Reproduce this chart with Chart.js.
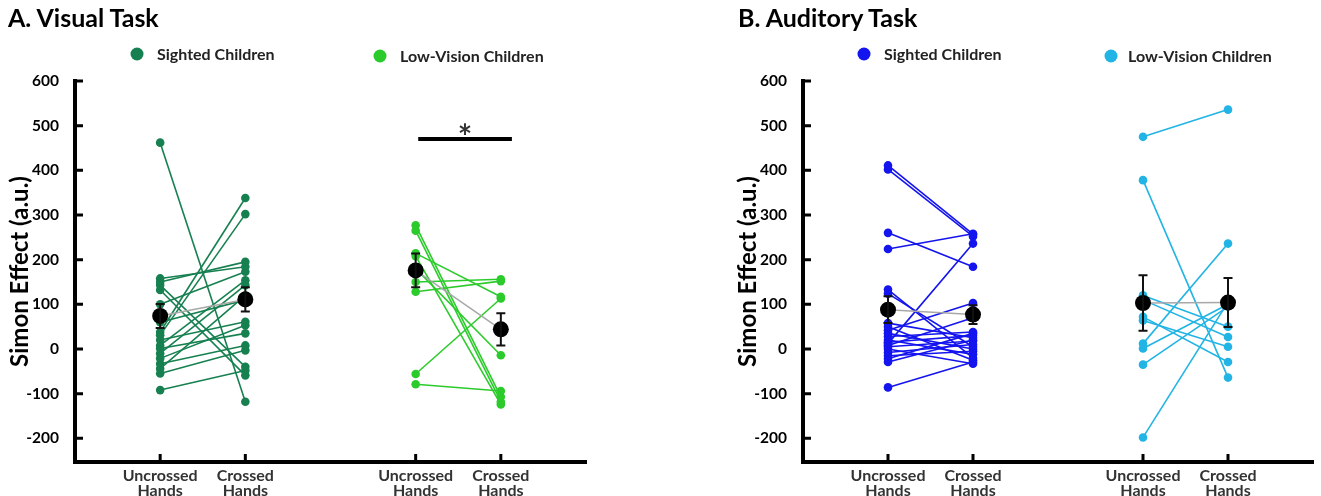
<!DOCTYPE html>
<html><head><meta charset="utf-8">
<script src="https://cdn.jsdelivr.net/npm/chart.js@4.4.1/dist/chart.umd.min.js"></script>
<style>
body{margin:0;background:#fff;overflow:hidden;font-family:Lato,sans-serif;}
#wrap{position:relative;width:1321px;height:496px;}
canvas{position:absolute;top:0;}
.title{position:absolute;font-weight:700;font-size:25px;color:#000;white-space:nowrap;line-height:1;}
.leg{position:absolute;font-weight:700;font-size:16px;color:#222;white-space:nowrap;line-height:1;transform:translateY(-50%);}
.dot{position:absolute;width:13px;height:13px;border-radius:50%;transform:translate(-50%,-50%);}
</style></head>
<body>
<div id="wrap">
  <canvas id="cA" width="660" height="496" style="left:0px"></canvas>
  <canvas id="cB" width="593" height="496" style="left:728px"></canvas>
  <div class="title" style="left:8px;top:5px;">A. Visual Task</div>
  <div class="title" style="left:738px;top:5px;">B. Auditory Task</div>
  <div class="dot" style="left:137px;top:54px;background:#178050"></div>
  <div class="leg" style="left:157px;top:54px;">Sighted Children</div>
  <div class="dot" style="left:380px;top:56px;background:#2ccb2c"></div>
  <div class="leg" style="left:400px;top:56px;">Low-Vision Children</div>
  <div class="dot" style="left:864px;top:54px;background:#1414ee"></div>
  <div class="leg" style="left:884px;top:54px;">Sighted Children</div>
  <div class="dot" style="left:1111px;top:56px;background:#22b4e4"></div>
  <div class="leg" style="left:1128px;top:56px;">Low-Vision Children</div>
</div>
<script>
// ---- data ----
const conditions = [['Uncrossed','Hands'], ['Crossed','Hands'], ['Uncrossed','Hands'], ['Crossed','Hands']];
const conditionPos = [1, 2, 4, 5];
const yTicks = [-200, -100, 0, 100, 200, 300, 400, 500, 600];

const visSightedUnc = [462, 158, 150, 143, 132, 100, 60, 38, 31, 20, 8, 1, -10, -21, -33, -44, -55, -92];
const visSightedCro = [-118, 184, 195, -40, -59, 173, 110, 338, 302, 61, 154, 35, 143, 53, 8, 120, -3, -48];
const visLVUnc = [277, 265, 214, 208, 180, 150, 128, -56, -79];
const visLVCro = [-107, -118, 117, -124, -14, 156, 152, 113, -94];

const audSightedUnc = [411, 402, 260, 224, 133, 124, 12, -86, 58, 50, 42, 35, 28, 20, 15, 5, -8, -15, -22, -29, 0, 8];
const audSightedCro = [257, 252, 184, 258, -20, 5, 236, -29, 25, -25, 103, 0, 38, -12, 30, 18, 10, -5, 35, 20, -33, 70];
const audLVUnc = [475, 378, 120, 110, 72, 64, 12, 1, -35, -198];
const audLVCro = [536, -64, 50, 27, -29, 5, 236, 100, 95, 105];

const visSightedMean = [74, 111], visSightedSem = [27, 27];
const visLVMean = [176, 44], visLVSem = [38, 36];
const audSightedMean = [88, 77], audSightedSem = [30, 21];
const audLVMean = [103, 104], audLVSem = [62, 55];

const sigBar = [4.03, 5.13], sigLevel = 470, sigStar = '*';

const colVisS = '#178050', colVisLV = '#2ccb2c', colAudS = '#1414ee', colAudLV = '#22b4e4';

// ---- plugins ----
const errPlugin = {
  id: 'errbars',
  afterDatasetsDraw(chart, args, opts) {
    const {ctx, scales: {x, y}} = chart;
    (opts.bars || []).forEach(b => {
      const px = x.getPixelForValue(b.x);
      const t = y.getPixelForValue(b.m + b.e), bt = y.getPixelForValue(b.m - b.e);
      ctx.save(); ctx.strokeStyle = '#111'; ctx.lineWidth = 2;
      ctx.beginPath();
      ctx.moveTo(px, t); ctx.lineTo(px, bt);
      ctx.moveTo(px - 4.5, t); ctx.lineTo(px + 4.5, t);
      ctx.moveTo(px - 4.5, bt); ctx.lineTo(px + 4.5, bt);
      ctx.stroke(); ctx.restore();
    });
    if (opts.star) {
      const px = x.getPixelForValue(opts.star.x), py = y.getPixelForValue(opts.star.y);
      ctx.save(); ctx.fillStyle = '#333'; ctx.font = 'bold 34px Lato'; ctx.textAlign = 'center'; ctx.textBaseline = 'alphabetic';
      ctx.fillText(opts.star.text, px, py + 10); ctx.restore();
    }
  }
};
const inTicks = {
  id: 'inticks',
  afterDraw(chart) {
    const {ctx, chartArea: ca, scales: {x, y}} = chart;
    ctx.save(); ctx.strokeStyle = '#000'; ctx.lineWidth = 3;
    ctx.beginPath();
    y.ticks.forEach(t => { const py = y.getPixelForValue(t.value); ctx.moveTo(ca.left, py); ctx.lineTo(ca.left + 8, py); });
    x.ticks.forEach(t => { const px = x.getPixelForValue(t.value); ctx.moveTo(px, ca.bottom); ctx.lineTo(px, ca.bottom - 8); });
    ctx.stroke(); ctx.restore();
  }
};

function pairSets(unc, cro, x0, x1, color) {
  return unc.map((u, i) => ({
    type: 'line', data: [{x: x0, y: u}, {x: x1, y: cro[i]}],
    borderColor: color, backgroundColor: color, pointBackgroundColor: color, pointBorderColor: color,
    pointRadius: 4.3, pointBorderWidth: 0, borderWidth: 1.6, order: 3
  }));
}
function meanSet(m, x0, x1) {
  return {type: 'line', data: [{x: x0, y: m[0]}, {x: x1, y: m[1]}], borderColor: '#a8a8a8', borderWidth: 1.5,
    pointBackgroundColor: '#000', pointBorderColor: '#000', pointRadius: 8, pointBorderWidth: 0, order: 1};
}

function makeChart(id, rightPad, datasets, bars, star) {
  return new Chart(document.getElementById(id), {
    type: 'line',
    data: {datasets},
    plugins: [errPlugin, inTicks],
    options: {
      responsive: false, animation: false, events: [],
      layout: {padding: {top: 81, right: rightPad, bottom: 0, left: 0}},
      plugins: {legend: {display: false}, tooltip: {enabled: false}, errbars: {bars, star}},
      scales: {
        x: {
          type: 'linear', min: 0, max: 6,
          afterBuildTicks: s => { s.ticks = conditionPos.map(v => ({value: v})); },
          afterFit: s => { s.height = 34; },
          ticks: {
            callback: v => { const i = conditionPos.indexOf(v); return i >= 0 ? conditions[i] : ''; },
            font: {family: 'Lato', weight: 'bold', size: 16, lineHeight: 0.9}, color: '#333', padding: 7,
            maxRotation: 0, autoSkip: false
          },
          grid: {display: false, drawTicks: false},
          border: {display: true, width: 4, color: '#000'}
        },
        y: {
          type: 'linear', min: -253, max: 600,
          afterBuildTicks: s => { s.ticks = yTicks.map(v => ({value: v})); },
          afterFit: s => { s.width = 75; },
          ticks: {callback: v => String(v), font: {family: 'Lato', weight: 'bold', size: 15.5}, color: '#000', padding: 16},
          grid: {display: false, drawTicks: false},
          border: {display: true, width: 4, color: '#000'},
          title: {display: true, text: 'Simon Effect (a.u.)', font: {family: 'Lato', weight: 'bold', size: 24}, color: '#000', padding: {top: 6, bottom: 0}}
        }
      }
    }
  });
}

makeChart('cA', 74, [
  meanSet(visSightedMean, 1, 2), meanSet(visLVMean, 4, 5),
  {type: 'line', data: [{x: sigBar[0], y: sigLevel}, {x: sigBar[1], y: sigLevel}], borderColor: '#000', borderWidth: 4, pointRadius: 0, order: 2},
  ...pairSets(visSightedUnc, visSightedCro, 1, 2, colVisS),
  ...pairSets(visLVUnc, visLVCro, 4, 5, colVisLV)
], [
  {x: 1, m: visSightedMean[0], e: visSightedSem[0]}, {x: 2, m: visSightedMean[1], e: visSightedSem[1]},
  {x: 4, m: visLVMean[0], e: visLVSem[0]}, {x: 5, m: visLVMean[1], e: visLVSem[1]}
], {x: (sigBar[0] + sigBar[1]) / 2, y: sigLevel, text: sigStar});

makeChart('cB', 8, [
  meanSet(audSightedMean, 1, 2), meanSet(audLVMean, 4, 5),
  ...pairSets(audSightedUnc, audSightedCro, 1, 2, colAudS),
  ...pairSets(audLVUnc, audLVCro, 4, 5, colAudLV)
], [
  {x: 1, m: audSightedMean[0], e: audSightedSem[0]}, {x: 2, m: audSightedMean[1], e: audSightedSem[1]},
  {x: 4, m: audLVMean[0], e: audLVSem[0]}, {x: 5, m: audLVMean[1], e: audLVSem[1]}
], null);
</script>
</body></html>
